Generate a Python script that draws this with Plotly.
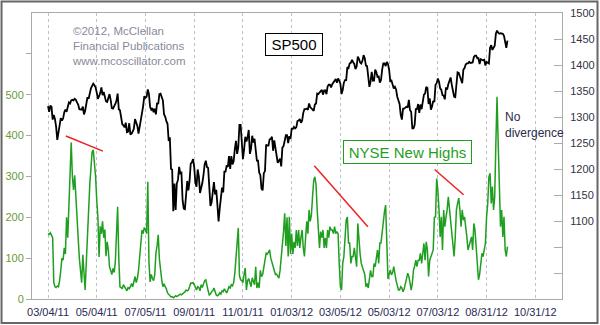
import plotly.graph_objects as go

# x-axis tick labels (every 42 trading days starting 03/04/11)
tick_labels = ["03/04/11", "05/04/11", "07/05/11", "09/01/11", "11/01/11", "01/03/12",
               "03/05/12", "05/03/12", "07/03/12", "08/31/12", "10/31/12"]
tick_step = 42

# S&P 500 daily closes, 03/04/11 .. 09/27/12 (trading days)
sp500 = [
    1321,1310,1322,1320,1295,1304,1296,1281,1256,1273,1279,1298,1293,1297,1309,1314,1310,1319,1328,1326,
    1332,1333,1332,1335,1333,1328,1324,1315,1314,1314,1320,1305,1312,1330,1338,1335,1347,1355,1360,1364,
    1361,1357,1347,1335,1340,1346,1357,1342,1348,1338,1330,1329,1340,1344,1333,1317,1316,1320,1325,1331,1345,
    1315,1313,1300,1286,1284,1280,1289,1271,1272,1288,1266,1268,1272,1278,1296,1288,1283,1268,1280,1296,1307,1321,
    1340,1337,1339,1353,1344,1319,1314,1317,1309,1316,1305,1327,1325,1344,1345,1337,1332,1305,1301,1292,
    1287,1254,1261,1200,1199,1119,1172,1121,1172,1179,1204,1192,1193,1140,1124,1123,1162,1177,1159,1177,1210,1213,1219,
    1204,1174,1166,1199,1186,1154,1162,1173,1188,1209,1216,1204,1202,1166,1129,1136,1163,1175,1151,1160,1131,
    1099,1124,1144,1164,1155,1195,1195,1207,1204,1225,1200,1225,1209,1215,1238,1254,1229,1242,1285,1285,1253,
    1219,1237,1262,1253,1261,1275,1229,1239,1264,1251,1258,1237,1216,1216,1193,1188,1162,1159,1192,1196,1247,
    1245,1245,1257,1258,1262,1235,1255,1237,1226,1212,1216,1220,1205,1241,1244,1254,1265,1265,1250,1263,1258,
    1277,1277,1281,1278,1280,1292,1293,1296,1289,1293,1308,1315,1315,1316,1314,1326,1319,1316,1313,1312,
    1324,1326,1345,1344,1347,1350,1352,1343,1351,1351,1344,1359,1362,1362,1357,1363,1366,1368,1373,1366,
    1374,1370,1364,1344,1352,1366,1371,1371,1396,1394,1403,1404,1410,1405,1402,1392,1397,1416,1412,1405,1403,1408,
    1419,1413,1399,1398,1382,1358,1368,1387,1370,1370,1391,1386,1377,1378,1366,1371,1391,1403,1403,1398,
    1406,1402,1391,1369,1370,1364,1355,1358,1353,1339,1330,1325,1304,1295,1316,1316,1318,1320,1318,1333,1313,1310,
    1278,1278,1285,1315,1315,1325,1308,1324,1315,1329,1343,1345,1358,1356,1325,1336,1314,1320,1331,1329,1362,
    1365,1374,1368,1355,1352,1342,1341,1334,1357,1353,1363,1372,1376,1362,1350,1339,1338,1360,1386,1385,1379,
    1375,1365,1391,1394,1401,1403,1403,1406,1404,1404,1405,1415,1418,1418,1413,1413,1402,1411,1410,1409,1410,1399,1406,
    1404,1403,1433,1438,1429,1433,1437,1460,1466,1462,1460,1461,1460,1460,1456,1441,1433,1447,
]

# NYSE New Highs, same trading days
new_highs = [
    160,158,162,156,150,40,30,28,32,30,
    45,70,100,95,125,110,200,150,230,280,
    383,300,267,303,240,180,150,100,63,40,
    108,60,22,90,160,230,280,320,360,365,
    340,300,242,200,103,178,160,190,150,170,
    105,140,120,79,70,60,75,65,90,150,
    226,100,30,28,25,35,30,22,20,28,
    25,30,38,30,45,55,40,50,70,100,
    137,169,160,175,170,160,287,90,42,60,
    50,45,60,112,130,157,98,63,47,30,
    37,30,25,15,12,10,5,6,3,5,
    8,6,8,10,12,10,14,15,18,22,
    20,22,30,39,38,40,35,30,22,30,
    28,20,35,28,40,45,47,30,20,10,
    12,18,20,27,15,10,8,10,15,12,
    20,18,25,20,15,22,30,27,35,32,
    40,63,104,128,174,57,47,45,40,61,
    76,22,45,50,40,30,52,45,35,79,
    27,40,27,70,55,60,80,90,112,110,
    116,120,100,90,80,70,60,61,55,51,
    70,100,140,165,210,130,200,104,201,110,
    160,110,140,125,169,130,169,125,150,169,
    125,104,150,190,160,218,190,205,250,290,
    299,280,218,169,125,165,150,169,125,150,
    125,169,150,177,169,169,160,177,160,165,
    160,87,30,22,87,104,169,193,201,137,
    137,87,104,104,125,100,79,185,137,110,
    87,79,70,60,30,38,27,45,70,55,
    55,87,79,100,120,87,137,137,169,201,
    214,230,150,49,60,71,59,64,79,55,
    45,34,22,22,30,27,18,25,42,50,
    63,55,40,22,38,71,80,95,79,95,
    95,112,87,120,136,95,140,120,55,95,
    104,110,120,200,201,295,266,218,152,201,
    120,218,177,200,218,250,218,201,150,137,
    104,152,218,234,247,218,177,218,193,201,
    180,152,120,130,137,152,120,185,169,120,
    71,47,60,87,112,104,120,137,201,234,
    299,308,234,275,218,250,381,495,381,250,
    177,218,152,201,120,104,128,
]

# Divergence lines (trading-day index, new-highs value)
div_x = [[15.4, 47.3], [229.5, 275.7], [333.2, 358.2]]
div_y = [[399, 362], [326, 177], [317, 255]]

left_ticks = [0, 100, 200, 300, 400, 500, 600]
left_labels = ["0", "100", "200", "300", "400", "500", ""]
right_ticks = [1000, 1050, 1100, 1150, 1200, 1250, 1300, 1350, 1400, 1450, 1500]
right_labels = ["", "", "1100", "1150", "1200", "1250", "1300", "1350", "1400", "1450", "1500"]

n = min(len(sp500), len(new_highs))
idx = list(range(n))
tick_pos = [i * tick_step for i in range(len(tick_labels))]

GREEN = "#1f9f1f"
FONT = "Liberation Sans, Arial, sans-serif"

fig = go.Figure()
fig.add_trace(go.Scatter(x=idx, y=new_highs[:n], mode="lines", yaxis="y",
                         line=dict(color=GREEN, width=1.5), showlegend=False))
for xs, ys in zip(div_x, div_y):
    fig.add_trace(go.Scatter(x=xs, y=ys, mode="lines", yaxis="y",
                             line=dict(color="#ee2222", width=1.5), showlegend=False))
fig.add_trace(go.Scatter(x=idx, y=sp500[:n], mode="lines", yaxis="y2",
                         line=dict(color="black", width=1.8), showlegend=False))

fig.update_layout(
    width=600, height=325,
    margin=dict(l=32, r=38, t=13, b=26, autoexpand=False),
    paper_bgcolor="white", plot_bgcolor="white",
    font=dict(family=FONT, size=12),
    xaxis=dict(range=[-13.8, 443], tickvals=tick_pos, ticktext=tick_labels,
               tickangle=0, automargin=False, ticklabelstandoff=3,
               showgrid=True, gridcolor="#c0c0cc", griddash="dot", gridwidth=1,
               showline=True, linecolor="#aaaaaa", linewidth=1, mirror=True,
               ticks="", zeroline=False,
               tickfont=dict(family=FONT, size=11, color="#2a2a55")),
    yaxis=dict(range=[0, 700], tickvals=left_ticks, ticktext=left_labels,
               automargin=False,
               ticks="outside", ticklen=5, tickcolor="#aaaaaa",
               showgrid=False, showline=True, linecolor="#aaaaaa", zeroline=False,
               tickfont=dict(family=FONT, size=11, color="#6a9a3a")),
    yaxis2=dict(range=[950, 1500], tickvals=right_ticks, ticktext=right_labels,
                overlaying="y", side="right", anchor="x", automargin=False,
                ticks="inside", ticklen=8, tickcolor="#aaaaaa",
                showgrid=False, showline=True, linecolor="#aaaaaa", zeroline=False,
                ticklabelstandoff=5,
                tickfont=dict(family=FONT, size=11, color="#333344")),
)

# outer frame
fig.add_shape(type="rect", xref="paper", yref="paper",
              x0=-0.0575, x1=1.067, y0=-0.0839, y1=1.0402,
              line=dict(color="#666666", width=2), layer="above")

def pxx(px):
    return (px - 32) / 530.0

def pxy(py):
    return (299 - py) / 286.0

fig.add_annotation(text="©2012, McClellan<br>Financial Publications<br>www.mcoscillator.com",
                   xref="paper", yref="paper", x=pxx(70), y=pxy(45.5),
                   xanchor="left", yanchor="middle", align="left", showarrow=False,
                   font=dict(family=FONT, size=11.5, color="#8a8a9a"))

fig.add_annotation(text="SP500", xref="paper", yref="paper", x=pxx(294), y=pxy(44),
                   xanchor="center", yanchor="middle", showarrow=False,
                   font=dict(family=FONT, size=15, color="black"),
                   bordercolor="black", borderwidth=1, borderpad=2, bgcolor="white",
                   width=52, height=17)
fig.add_annotation(text="NYSE New Highs", xref="paper", yref="paper", x=pxx(407.5), y=pxy(151.5),
                   xanchor="center", yanchor="middle", showarrow=False,
                   font=dict(family=FONT, size=15, color=GREEN),
                   bordercolor=GREEN, borderwidth=1, borderpad=2, bgcolor="white",
                   width=123, height=18)
fig.add_annotation(text="No<br>divergence", xref="paper", yref="paper", x=pxx(503), y=pxy(124.5),
                   xanchor="left", yanchor="middle", align="left", showarrow=False,
                   font=dict(family=FONT, size=12, color="#2a2a4a"))

fig.write_html("out.html")
